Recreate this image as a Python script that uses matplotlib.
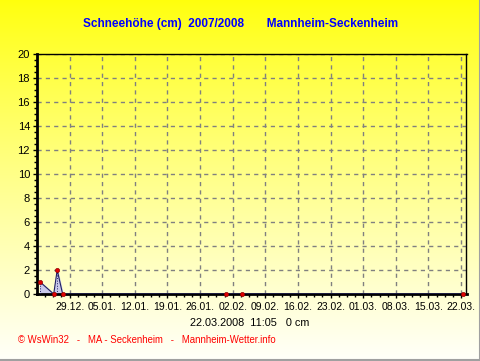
import numpy as np
import matplotlib
matplotlib.use("Agg")
import matplotlib.pyplot as plt
from matplotlib.ticker import MultipleLocator
from datetime import datetime, timedelta

plt.rcParams['font.family'] = ['Liberation Sans', 'DejaVu Sans']

# Messwerte Schneehoehe (cm)
zeiten = ["2007-12-22 16:00", "2007-12-25 14:00", "2007-12-26 08:00",
          "2007-12-27 12:00", "2008-01-31 14:00", "2008-02-04 00:00",
          "2008-03-22 11:05"]
werte = [1.0, 0.0, 2.0, 0.0, 0.0, 0.0, 0.0]

wochen = ["2007-12-29", "2008-01-05", "2008-01-12", "2008-01-19", "2008-01-26",
          "2008-02-02", "2008-02-09", "2008-02-16", "2008-02-23", "2008-03-01",
          "2008-03-08", "2008-03-15", "2008-03-22"]
wochen_labels = ["29.12.", "05.01.", "12.01.", "19.01.", "26.01.", "02.02.",
                 "09.02.", "16.02.", "23.02.", "01.03.", "08.03.", "15.03.", "22.03."]

titel = "Schneehöhe (cm)  2007/2008       Mannheim-Seckenheim"
stand = "22.03.2008  11:05   0 cm"
fuss = "© WsWin32   -   MA - Seckenheim   -   Mannheim-Wetter.info"

t = [datetime.strptime(z, "%Y-%m-%d %H:%M") for z in zeiten]
tw = [datetime.strptime(z, "%Y-%m-%d") for z in wochen]

fig = plt.figure(figsize=(4.81, 3.61), dpi=100)

# Hintergrund: Verlauf gelb -> weiss
bg = fig.add_axes([0, 0, 1, 1], zorder=-10)
grad = np.linspace(0, 1, 256)
rgb = np.ones((256, 1, 3))
rgb[:, 0, 2] = 0.05 + 0.93 * grad ** 0.9
bg.imshow(rgb, aspect='auto', extent=[0, 1, 0, 1], origin='upper')
bg.set_xlim(0, 1)
bg.set_ylim(0, 1)
bg.axis('off')
bg.plot([0, 1], [0.003, 0.003], color='#a0a0a0', lw=1.5)
bg.plot([0.997, 0.997], [0, 1], color='#a0a0a0', lw=1.5)

ax = fig.add_axes([37 / 481, 1 - 294 / 361, 429.5 / 481, 240 / 361])
ax.set_facecolor('none')

x0 = datetime(2007, 12, 22)
x1 = datetime(2008, 3, 23, 4, 0)

ax.fill_between(t, werte, 0, color='#c4c4ee', alpha=0.9, zorder=2)
ax.plot(t, werte, color='#202060', lw=0.8, zorder=3)
for ti, wi in zip(t, werte):
    if wi > 0:
        ax.plot([ti, ti], [0, wi], color='#202060', lw=0.7, ls=':', zorder=3)
ax.plot(t, werte, 'o', color='#e00000', ms=3, mec='#900000', mew=0.5, zorder=5,
        clip_on=False)

ax.set_xticks(tw)
ax.set_xticklabels(wochen_labels)
ax.set_xticks([d + timedelta(days=k * 7 / 4) for d in [tw[0] - timedelta(days=7)] + tw
               for k in range(1, 4)], minor=True)
ax.set_xlim(x0, x1)
ax.set_ylim(0, 20)
ax.yaxis.set_major_locator(MultipleLocator(2))
ax.yaxis.set_minor_locator(MultipleLocator(0.5))

ax.grid(True, which='major', color='#808080', ls=(0, (3, 3)), lw=1)
ax.set_axisbelow(True)

for s in ['left', 'bottom']:
    ax.spines[s].set_linewidth(2)
for s in ['top', 'right']:
    ax.spines[s].set_linewidth(1)
ax.tick_params(axis='both', which='major', direction='out', length=3, width=1,
               labelsize=8, pad=2, colors='black')
ax.tick_params(axis='both', which='minor', direction='out', length=2, width=1)
ax.tick_params(axis='x', pad=3, labelsize=7.5)

fig.text(0.5, 1 - 24 / 361, titel, ha='center', va='center', color='#0000ff',
         fontsize=8.5, fontweight='bold')
fig.text(250 / 481, 1 - 323 / 361, stand, ha='center', va='center', color='black',
         fontsize=7.8)
fig.text(18 / 481, 1 - 340 / 361, fuss, ha='left', va='center', color='#ff0000',
         fontsize=6.9)

fig.savefig('out.png', dpi=100)
